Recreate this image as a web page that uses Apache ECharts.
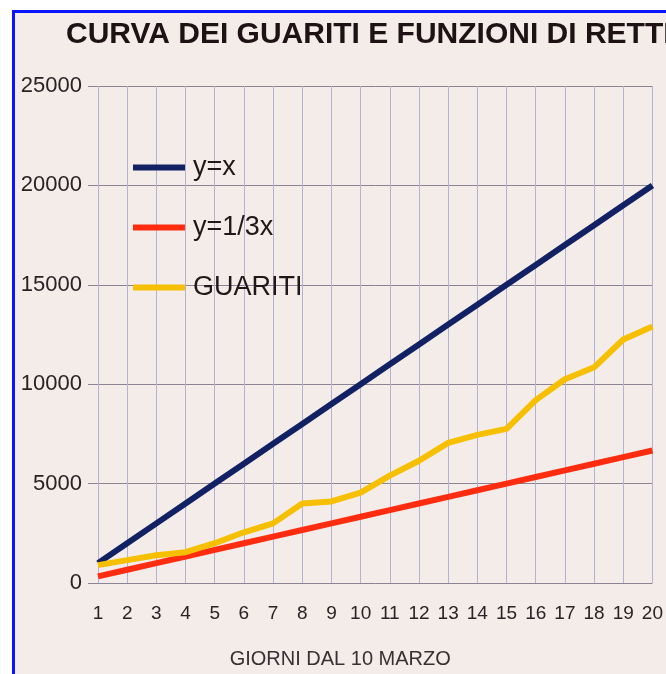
<!DOCTYPE html>
<html>
<head>
<meta charset="utf-8">
<script src="https://cdn.jsdelivr.net/npm/echarts@6/dist/echarts.min.js"></script>
<style>
  html, body { margin: 0; padding: 0; background: #fff; }
  #chart {
    position: absolute;
    left: 12px;
    top: 10px;
    width: 651px;
    height: 661px;
    border-top: 3px solid #0a14ff;
    border-left: 3px solid #0a14ff;
    background: #f3ece9;
  }
</style>
</head>
<body>
<div id="chart"></div>
<script>
// giorni dal 10 marzo
const giorni = ['1', '2', '3', '4', '5', '6', '7', '8', '9', '10',
  '11', '12', '13', '14', '15', '16', '17', '18', '19', '20']

// y = x
const rettaX = [1000, 2000, 3000, 4000, 5000, 6000, 7000, 8000, 9000, 10000,
  11000, 12000, 13000, 14000, 15000, 16000, 17000, 18000, 19000, 20000]

// y = 1/3 x
const rettaTerzo = [333, 667, 1000, 1333, 1667, 2000, 2333, 2667, 3000, 3333,
  3667, 4000, 4333, 4667, 5000, 5333, 5667, 6000, 6333, 6667]

// guariti
const guariti = [900, 1150, 1400, 1550, 2000, 2550, 3000, 4000, 4100, 4550,
  5400, 6150, 7050, 7450, 7750, 9200, 10250, 10850, 12250, 12900]

const chart = echarts.init(document.getElementById('chart'))

const lineSeries = (name, data, color) => ({
  name: name,
  type: 'line',
  data: data,
  showSymbol: false,
  symbol: 'none',
  lineStyle: { color: color, width: 6 },
  itemStyle: { color: color },
  animation: false
})

const option = {
  title: {
    text: 'CURVA DEI GUARITI E FUNZIONI DI RETTE',
    left: 46,
    top: 2,
    textStyle: {
      fontFamily: 'Liberation Sans',
      fontSize: 30,
      fontWeight: 'bold',
      color: '#1e1214'
    }
  },
  legend: {
    orient: 'vertical',
    left: 113,
    top: 136,
    itemWidth: 52,
    itemHeight: 6,
    itemGap: 33,
    icon: 'rect',
    textStyle: {
      fontFamily: 'Liberation Sans',
      fontSize: 27,
      color: '#1e1818',
      padding: [0, 0, 0, 3]
    },
    data: ['y=x', 'y=1/3x', 'GUARITI']
  },
  grid: {
    left: 83,
    right: 13,
    top: 73,
    bottom: 86,
    containLabel: false
  },
  xAxis: {
    type: 'category',
    data: giorni,
    boundaryGap: false,
    name: 'GIORNI DAL 10 MARZO',
    nameLocation: 'middle',
    nameGap: 66,
    nameTextStyle: {
      fontFamily: 'Liberation Sans',
      fontSize: 20,
      color: '#3a3034',
      padding: [0, 70, 0, 0]
    },
    axisLine: { show: false },
    axisTick: { show: false },
    axisLabel: {
      margin: 21,
      fontFamily: 'Liberation Sans',
      fontSize: 19,
      color: '#2a2224'
    },
    splitLine: {
      show: true,
      lineStyle: { color: '#b4b2d2', width: 1 }
    }
  },
  yAxis: {
    type: 'value',
    min: 0,
    max: 25000,
    interval: 5000,
    axisLine: { show: false },
    axisTick: {
      show: true,
      inside: false,
      length: 10,
      lineStyle: { color: '#8a8494' }
    },
    axisLabel: {
      margin: 16,
      fontFamily: 'Liberation Sans',
      fontSize: 22,
      color: '#2a2224',
      formatter: v => String(v)
    },
    splitLine: {
      lineStyle: { color: '#8a8494', width: 1 }
    }
  },
  series: [
    lineSeries('y=x', rettaX, '#122064'),
    lineSeries('y=1/3x', rettaTerzo, '#ff2c10'),
    lineSeries('GUARITI', guariti, '#f6c000')
  ]
}

chart.setOption(option)
</script>
</body>
</html>
